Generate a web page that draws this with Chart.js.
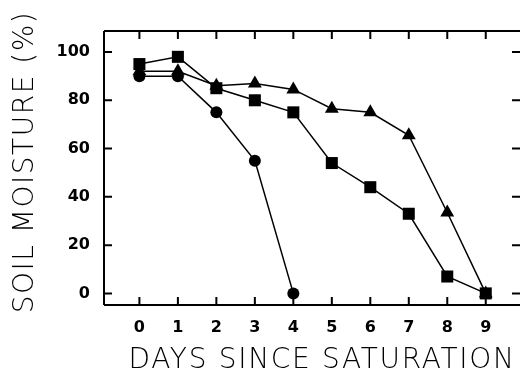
<!DOCTYPE html>
<html>
<head>
<meta charset="utf-8">
<script src="https://cdn.jsdelivr.net/npm/chart.js@4"></script>
<style>
  body { margin: 0; background: #fff; }
  #wrap { width: 520px; height: 372px; }
</style>
</head>
<body>
<div id="wrap"><canvas id="result"></canvas></div>
<script>
const days = [0, 1, 2, 3, 4, 5, 6, 7, 8, 9]
const circleMoisture = [90, 90, 75, 55, 0]
const squareMoisture = [95, 98, 85, 80, 75, 54, 44, 33, 7, 0]
const triangleMoisture = [92, 92, 86, 87, 84.5, 76.5, 75, 65.5, 33.5, 0]
const xTitle = 'DAYS SINCE SATURATION'
const yTitle = 'SOIL MOISTURE (%)'

function toPoints (values) {
  return values.map((v, i) => ({ x: days[i], y: v }))
}

// inward ticks, box frame and the spaced-out axis titles
const frame = {
  id: 'frame',
  afterDatasetsDraw (chart) {
    const { ctx, chartArea: a, scales: { x, y } } = chart
    const len = 8
    ctx.save()
    ctx.strokeStyle = '#000'
    ctx.lineWidth = 2
    ctx.beginPath()
    ctx.moveTo(a.left, a.top)
    ctx.lineTo(a.left, a.bottom)
    ctx.moveTo(a.left, a.bottom)
    ctx.lineTo(a.right, a.bottom)
    ctx.moveTo(a.left, a.top)
    ctx.lineTo(a.right, a.top)
    x.ticks.forEach(t => {
      const px = x.getPixelForValue(t.value)
      ctx.moveTo(px, a.bottom)
      ctx.lineTo(px, a.bottom - len)
      ctx.moveTo(px, a.top)
      ctx.lineTo(px, a.top + len)
    })
    y.ticks.forEach(t => {
      const py = y.getPixelForValue(t.value)
      ctx.moveTo(a.left, py)
      ctx.lineTo(a.left + len, py)
      ctx.moveTo(a.right, py)
      ctx.lineTo(a.right - len, py)
    })
    ctx.stroke()

    ctx.fillStyle = '#000'
    ctx.font = '200 28px "DejaVu Sans"'
    ctx.textAlign = 'center'
    ctx.textBaseline = 'alphabetic'
    ctx.letterSpacing = '1.7px'
    ctx.fillText(xTitle, 322, 368)
    ctx.translate(33, 162)
    ctx.rotate(-Math.PI / 2)
    ctx.letterSpacing = '1.5px'
    ctx.fillText(yTitle, 0, 0)
    ctx.restore()
  }
}

const lineStyle = {
  borderColor: '#000',
  backgroundColor: '#000',
  borderWidth: 1.5,
  pointBorderWidth: 0,
  tension: 0,
  clip: false
}

const tickFont = { family: 'DejaVu Sans', size: 16, weight: 'bold' }

new Chart(document.getElementById('result'), {
  type: 'line',
  data: {
    datasets: [
      Object.assign({ label: 'triangle', data: toPoints(triangleMoisture), pointStyle: 'triangle', pointRadius: 8 }, lineStyle),
      Object.assign({ label: 'square', data: toPoints(squareMoisture), pointStyle: 'rect', pointRadius: 8.5 }, lineStyle),
      Object.assign({ label: 'circle', data: toPoints(circleMoisture), pointStyle: 'circle', pointRadius: 6 }, lineStyle)
    ]
  },
  options: {
    responsive: true,
    maintainAspectRatio: false,
    animation: false,
    layout: { autoPadding: false, padding: { top: 31, right: 0, left: 0, bottom: 0 } },
    plugins: { legend: { display: false }, tooltip: { enabled: false } },
    scales: {
      x: {
        type: 'linear',
        min: -0.92,
        max: 9.89,
        afterFit (scale) {
          scale.height = 67
          scale.paddingLeft = 0
          scale.paddingRight = 0
        },
        grid: { display: false, drawTicks: false },
        border: { display: false },
        ticks: {
          stepSize: 1,
          includeBounds: false,
          padding: 13,
          color: '#000',
          font: tickFont
        }
      },
      y: {
        min: -4.8,
        max: 108.7,
        afterFit (scale) {
          scale.width = 104
          scale.paddingTop = 0
          scale.paddingBottom = 0
        },
        grid: { display: false, drawTicks: false },
        border: { display: false },
        ticks: {
          stepSize: 20,
          includeBounds: false,
          padding: 14,
          color: '#000',
          font: tickFont
        }
      }
    }
  },
  plugins: [frame]
})
</script>
</body>
</html>
